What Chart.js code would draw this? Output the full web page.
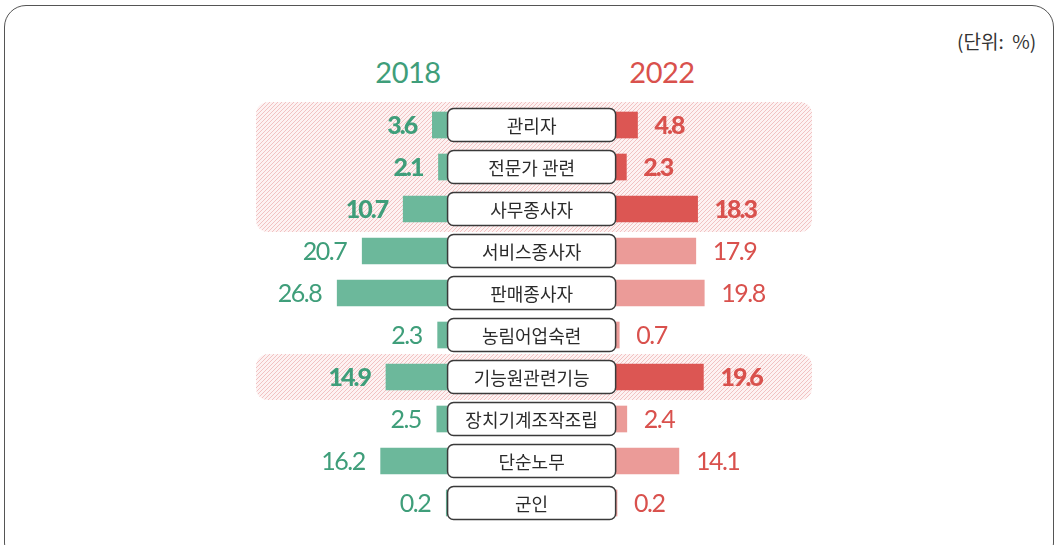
<!DOCTYPE html>
<html>
<head>
<meta charset="utf-8">
<script src="https://cdn.jsdelivr.net/npm/chart.js@4"></script>
<style>
  body { margin: 0; background: #fff; }
  #wrap { position: relative; width: 1060px; height: 545px; overflow: hidden; }
  #frame { position: absolute; left: 4px; top: 5px; width: 1050px; height: 560px;
           border: 1.5px solid #555; border-radius: 22px; box-sizing: border-box; }
  .year { position: absolute; top: 54px; font-family: Lato, "Noto Sans", sans-serif;
          font-size: 29px; width: 120px; text-align: center; letter-spacing: -0.5px; }
  #unit { position: absolute; left: 957px; top: 27px; font-family: "Noto Sans CJK KR", sans-serif;
          font-size: 19px; color: #333; }
  canvas { position: absolute; left: 0; top: 0; }
</style>
</head>
<body>
<div id="wrap">
  <div id="frame"></div>
  <div class="year" style="left:348px; color:#3f9e7a;">2018</div>
  <div class="year" style="left:602px; color:#d9514d;">2022</div>
  <div id="unit">(단위:&nbsp; %)</div>
  <canvas id="jobChart" width="1060" height="545"></canvas>
</div>
<script>
// 직업별 비중 (2018 vs 2022)
const categories = ['관리자', '전문가 관련', '사무종사자', '서비스종사자', '판매종사자',
                    '농림어업숙련', '기능원관련기능', '장치기계조작조립', '단순노무', '군인'];
const values2018 = [3.6, 2.1, 10.7, 20.7, 26.8, 2.3, 14.9, 2.5, 16.2, 0.2];
const values2022 = [4.8, 2.3, 18.3, 17.9, 19.8, 0.7, 19.6, 2.4, 14.1, 0.2];
const highlighted = [true, true, true, false, false, false, true, false, false, false];

const green = '#6cb89b';
const greenText = '#3f9e7a';
const redDark = '#dc5653';
const redLight = '#eb9b98';
const redText = '#d9514d';

// hatch pattern for highlighted rows
const pc = document.createElement('canvas');
pc.width = 4; pc.height = 4;
const pctx = pc.getContext('2d');
pctx.fillStyle = '#fdf2f2';
pctx.fillRect(0, 0, 4, 4);
pctx.strokeStyle = '#f1c2c2';
pctx.lineWidth = 1;
pctx.beginPath();
pctx.moveTo(-1, 5); pctx.lineTo(5, -1);
pctx.moveTo(-1, 1); pctx.lineTo(1, -1);
pctx.moveTo(3, 5); pctx.lineTo(5, 3);
pctx.stroke();

const rowPlugin = {
    id: 'rows',
    beforeDatasetsDraw(chart) {
        const { ctx, chartArea, scales } = chart;
        const pattern = ctx.createPattern(pc, 'repeat');
        let i = 0;
        while (i < categories.length) {
            if (!highlighted[i]) { i++; continue; }
            let j = i;
            while (j + 1 < categories.length && highlighted[j + 1]) j++;
            const top = scales.y.getPixelForValue(i) - 23;
            const bottom = scales.y.getPixelForValue(j) + 23;
            ctx.save();
            ctx.beginPath();
            ctx.roundRect(chartArea.left, top, chartArea.right - chartArea.left, bottom - top, 12);
            ctx.fillStyle = pattern;
            ctx.fill();
            ctx.restore();
            i = j + 1;
        }
    },
    afterDatasetsDraw(chart) {
        const { ctx, scales } = chart;
        const left = scales.xl.getPixelForValue(0);
        const right = scales.xr.getPixelForValue(0);
        ctx.save();
        categories.forEach((c, i) => {
            const y = scales.y.getPixelForValue(i);
            // category box
            ctx.beginPath();
            ctx.roundRect(left + 0.5, y - 16.5, right - left - 1, 33, 6);
            ctx.fillStyle = '#fff';
            ctx.fill();
            ctx.lineWidth = 1.5;
            ctx.strokeStyle = '#3a3a3a';
            ctx.stroke();
            ctx.fillStyle = '#2b2b2b';
            ctx.font = '18px "Noto Sans CJK KR"';
            ctx.textAlign = 'center';
            ctx.textBaseline = 'middle';
            ctx.letterSpacing = '0px';
            ctx.fillText(c, (left + right) / 2, y + 1);

            // value labels
            const bold = highlighted[i];
            ctx.font = (bold ? '900 ' : '400 ') + '25px Lato, "Noto Sans", sans-serif';
            ctx.letterSpacing = bold ? '-2px' : '-1.5px';
            ctx.fillStyle = greenText;
            ctx.textAlign = 'right';
            ctx.fillText(values2018[i].toFixed(1), scales.xl.getPixelForValue(values2018[i]) - 16, y + 1);
            ctx.fillStyle = redText;
            ctx.textAlign = 'left';
            ctx.fillText(values2022[i].toFixed(1), scales.xr.getPixelForValue(values2022[i]) + 17, y + 1);
        });
        ctx.restore();
    }
};

const ctx = document.getElementById('jobChart').getContext('2d');

new Chart(ctx, {
    type: 'bar',
    data: {
        labels: categories,
        datasets: [{
            label: '2018',
            data: values2018,
            xAxisID: 'xl',
            backgroundColor: green,
            barThickness: 26,
            grouped: false
        }, {
            label: '2022',
            data: values2022,
            xAxisID: 'xr',
            backgroundColor: highlighted.map(h => h ? redDark : redLight),
            barThickness: 26,
            grouped: false
        }]
    },
    options: {
        indexAxis: 'y',
        responsive: false,
        animation: false,
        layout: { padding: { left: 256, right: 248, top: 104, bottom: 21 } },
        plugins: {
            legend: { display: false },
            tooltip: { enabled: false }
        },
        scales: {
            y: { type: 'category', display: false, offset: true },
            xl: { type: 'linear', display: false, reverse: true, min: -89, max: 46.6 },
            xr: { type: 'linear', display: false, min: -80.9, max: 44 }
        }
    },
    plugins: [rowPlugin]
});
</script>
</body>
</html>
